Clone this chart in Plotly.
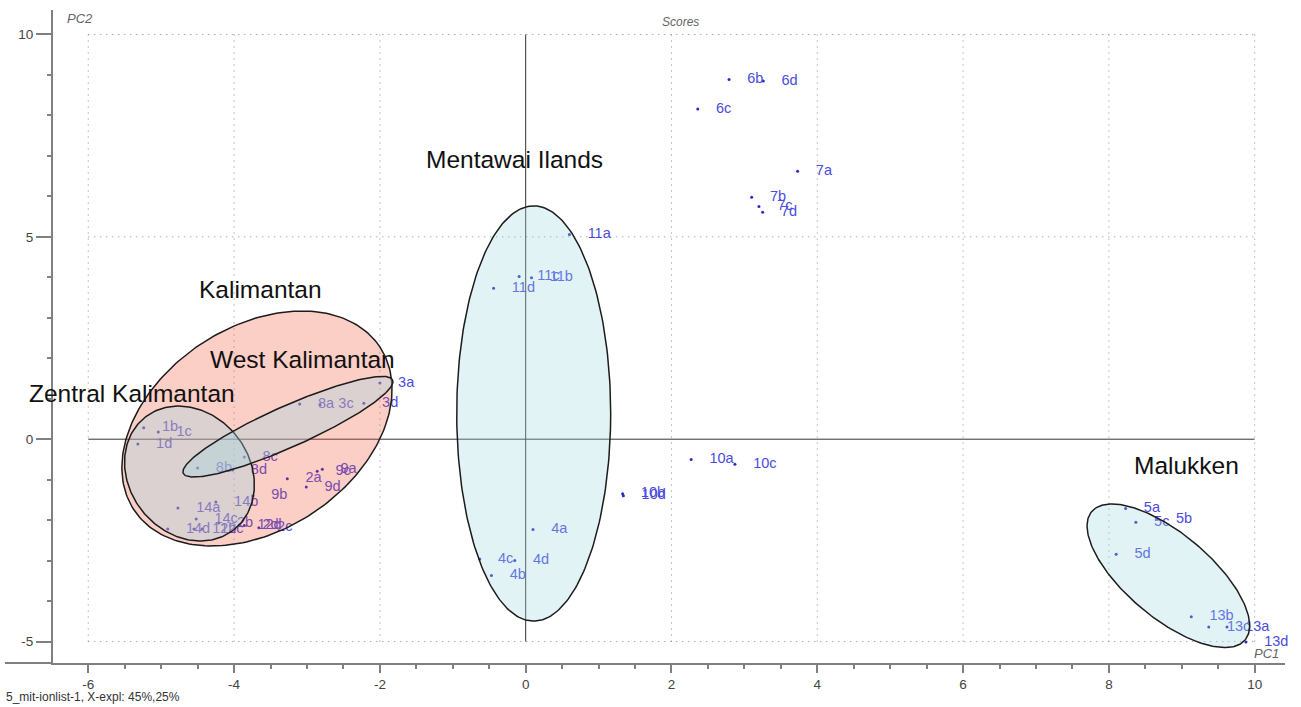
import numpy as np
import plotly.graph_objects as go

# ---- PCA scores (PC1, PC2) per sample ----
sample_ids = [
    "1b", "1c", "1d",
    "3a", "3c", "3d",
    "8a", "8b", "8c", "8d",
    "2a", "2b", "2c", "2d",
    "9a", "9b", "9c", "9d",
    "12b", "12c", "12d",
    "14a", "14b", "14c", "14d",
    "11a", "11b", "11c", "11d",
    "4a", "4b", "4c", "4d",
    "10a", "10b", "10c", "10d",
    "6b", "6c", "6d",
    "7a", "7b", "7c", "7d",
    "5a", "5b", "5c", "5d",
    "13a", "13b", "13c", "13d",
]
pc1 = [
    -5.24, -5.04, -5.32,
    -2.00, -2.82, -2.22,
    -3.10, -4.50, -3.86, -4.02,
    -3.27, -4.21, -3.66, -3.86,
    -2.79, -3.74, -2.86, -3.01,
    -4.55, -4.44, -3.93,
    -4.77, -4.25, -4.52, -4.91,
    0.60, 0.08, -0.09, -0.44,
    0.10, -0.47, -0.63, -0.15,
    2.27, 1.33, 2.87, 1.34,
    2.79, 2.36, 3.26,
    3.73, 3.10, 3.20, 3.25,
    8.23, 8.67, 8.37, 8.10,
    9.62, 9.13, 9.37, 9.88,
]
pc2 = [
    0.28, 0.18, -0.12,
    1.39, 0.85, 0.89,
    0.87, -0.71, -0.44, -0.76,
    -0.98, -2.07, -2.19, -2.13,
    -0.74, -1.40, -0.79, -1.18,
    -2.22, -2.22, -2.12,
    -1.70, -1.55, -1.97, -2.22,
    5.06, 3.99, 4.02, 3.73,
    -2.23, -3.37, -2.96, -3.00,
    -0.50, -1.35, -0.62, -1.40,
    8.89, 8.16, 8.85,
    6.62, 5.98, 5.75, 5.61,
    -1.71, -1.97, -2.05, -2.84,
    -4.64, -4.39, -4.64, -5.01,
]

# ---- group ellipses: centre and two conjugate semi-axis vectors ----
group_names = ["Kalimantan", "Zentral Kalimantan", "West Kalimantan",
               "Mentawai Ilands", "Malukken"]
ell_cx = [-3.686, -4.612, -3.261, 0.11, 8.816]
ell_cy = [0.264, -0.848, 0.309, 0.635, -3.375]
ell_ux = [1.686, 0.613, 1.436, 1.056, 1.052]
ell_uy = [2.016, -1.384, 1.154, 0.0, -1.586]
ell_vx = [0.769, 0.646, 0.114, 0.0, -0.370]
ell_vy = [-2.088, 0.929, -0.463, 5.13, -0.796]

# ---- group captions (x in paper units so the left one may sit past the axis) ----
caption_x = [0.1166, -0.0211, 0.1256, 0.3011, 0.8758]
caption_y = [3.71, 1.14, 1.957, 6.90, -0.66]

# ---- axes ----
x_ticks = [-6, -4, -2, 0, 2, 4, 6, 8, 10]
x_ticktext = ["-6", "-4", "-2", "0", "2", "4", "6", "8", "10"]
y_ticks = [-5, 0, 5, 10]
y_ticktext = ["-5", "0", "5", "10"]
grid_x = [-6, -4, -2, 2, 4, 6, 8, 10]
grid_y = [-5, 5, 10]
X_RANGE = [-6.484, 10.416]
Y_RANGE = [-5.530, 10.605]
GRID_X_SPAN = [-6, 10]
GRID_Y_SPAN = [-5, 10]

ell_fill = [
    "rgba(240, 80, 50, 0.28)",
    "rgba(160, 215, 225, 0.35)",
    "rgba(160, 215, 225, 0.35)",
    "rgba(160, 215, 225, 0.30)",
    "rgba(160, 215, 225, 0.30)",
]
LABEL_DX = 0.25
FONT = "Liberation Sans, Arial, sans-serif"

fig = go.Figure()

# sample points and their labels
fig.add_trace(go.Scatter(
    x=pc1, y=pc2, mode="markers",
    marker=dict(size=3, color="#2a2ac8"),
    hoverinfo="skip",
))
fig.add_trace(go.Scatter(
    x=[v + LABEL_DX for v in pc1], y=pc2, mode="text",
    text=sample_ids, textposition="middle right",
    textfont=dict(family=FONT, size=14.5, color="#4b4be0"),
    cliponaxis=False, hoverinfo="skip",
))

# translucent group ellipses drawn over the points
t = np.linspace(0, 2 * np.pi, 240)
for i, name in enumerate(group_names):
    ex = ell_cx[i] + ell_ux[i] * np.cos(t) + ell_vx[i] * np.sin(t)
    ey = ell_cy[i] + ell_uy[i] * np.cos(t) + ell_vy[i] * np.sin(t)
    fig.add_trace(go.Scatter(
        x=ex, y=ey, mode="lines", fill="toself",
        fillcolor=ell_fill[i],
        line=dict(color="#1c1c1c", width=1.5),
        name=name, hoverinfo="skip",
    ))
    fig.add_annotation(
        x=caption_x[i], y=caption_y[i], xref="paper", yref="y",
        text=name, showarrow=False, xanchor="left", yanchor="middle",
        font=dict(family=FONT, size=24.5, color="#111111"),
    )

# dotted grid limited to the scored region, solid origin lines
shapes = []
for gx in grid_x:
    shapes.append(dict(type="line", xref="x", yref="y", x0=gx, x1=gx,
                       y0=GRID_Y_SPAN[0], y1=GRID_Y_SPAN[1], layer="below",
                       line=dict(color="#8a8a8a", width=1, dash="1px,5px")))
for gy in grid_y:
    shapes.append(dict(type="line", xref="x", yref="y", y0=gy, y1=gy,
                       x0=GRID_X_SPAN[0], x1=GRID_X_SPAN[1], layer="below",
                       line=dict(color="#8a8a8a", width=1, dash="1px,5px")))
shapes.append(dict(type="line", xref="x", yref="y", x0=0, x1=0,
                   y0=GRID_Y_SPAN[0], y1=GRID_Y_SPAN[1], layer="below",
                   line=dict(color="#333333", width=1)))
shapes.append(dict(type="line", xref="x", yref="y", y0=0, y1=0,
                   x0=GRID_X_SPAN[0], x1=GRID_X_SPAN[1], layer="below",
                   line=dict(color="#333333", width=1)))
# bottom axis line runs on past the vertical axis
shapes.append(dict(type="line", xref="paper", yref="paper", x0=-0.039, x1=0,
                   y0=0, y1=0, line=dict(color="#808080", width=2)))

texts = [
    dict(x=0.509, y=0.9816, text="<i>Scores</i>", size=12, color="#666666", anchor="center"),
    dict(x=0.0097, y=0.9877, text="<i>PC2</i>", size=13, color="#666666", anchor="left"),
    dict(x=0.9732, y=0.0153, text="<i>PC1</i>", size=13, color="#666666", anchor="left"),
    dict(x=-0.0398, y=-0.052, text="5_mit-ionlist-1, X-expl: 45%,25%", size=12, color="#333333", anchor="left"),
]
for d in texts:
    fig.add_annotation(x=d["x"], y=d["y"], xref="paper", yref="paper",
                       text=d["text"], showarrow=False, xanchor=d["anchor"],
                       yanchor="middle",
                       font=dict(family=FONT, size=d["size"], color=d["color"]))

axis_common = dict(
    showgrid=False, zeroline=False, showline=True,
    linecolor="#808080", linewidth=2, ticks="outside",
    tickcolor="#808080", tickwidth=1.5,
    tickfont=dict(family=FONT, size=13.5, color="#444444"),
)
fig.update_layout(
    width=1301, height=707,
    margin=dict(l=53, r=16, t=10, b=44),
    plot_bgcolor="white", paper_bgcolor="white",
    showlegend=False, shapes=shapes,
    xaxis=dict(range=X_RANGE, tickvals=x_ticks, ticktext=x_ticktext,
               ticklen=8,
               minor=dict(ticks="outside", ticklen=4, dtick=0.5, tick0=0,
                          tickcolor="#808080"),
               **axis_common),
    yaxis=dict(range=Y_RANGE, tickvals=y_ticks, ticktext=y_ticktext,
               ticklen=15,
               minor=dict(ticks="outside", ticklen=4, dtick=1, tick0=0,
                          tickcolor="#808080"),
               **axis_common),
)

fig.write_html("out.html")
